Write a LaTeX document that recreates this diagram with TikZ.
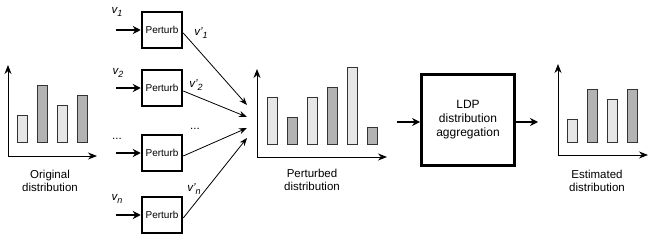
\documentclass[tikz,border=0pt]{standalone}
\usepackage{fontspec}
\setmainfont{Liberation Sans}
\usetikzlibrary{arrows.meta, positioning}
\definecolor{BarLight}{RGB}{230,230,230}
\definecolor{BarDark}{RGB}{179,179,179}
\definecolor{BarEdge}{RGB}{51,51,51}
\newcommand{\vsub}[1]{\raisebox{-2.5pt}{\fontsize{9}{9}\selectfont\itshape #1}}

\begin{document}
\begin{tikzpicture}[x=1pt, y=-1pt,
  perturb/.style={draw, line width=2.5pt, minimum width=40pt,
                  minimum height=36pt, inner sep=0pt,
                  font=\fontsize{10}{12}\selectfont},
  agg/.style={draw, line width=2.8pt, minimum width=93pt,
              minimum height=91pt, align=center,
              font=\fontsize{12}{14}\selectfont},
  caption/.style={align=center, font=\fontsize{11.5}{13}\selectfont},
  vlabel/.style={inner sep=0pt, font=\fontsize{11.5}{13}\selectfont\itshape},
  thickarr/.style={-{Stealth[length=8pt, width=8pt]}, line width=1.8pt},
  thinarr/.style={-{Stealth[length=8pt, width=6pt]}, line width=0.8pt},
  axis/.style={-{Stealth[length=9pt, width=7pt]}, line width=0.9pt},
  lbar/.style={draw=BarEdge, fill=BarLight, line width=0.8pt},
  dbar/.style={draw=BarEdge, fill=BarDark, line width=0.8pt},
]
\useasboundingbox (0,0) rectangle (656,240);

% original distribution
\coordinate (o1) at (8,156);
\foreach \bx/\btop/\bst in {17/115/lbar, 37/85/dbar, 57/105/lbar, 77/95/dbar}
  \draw[\bst] (\bx,142) rectangle (\bx+10,\btop);
\draw[axis] (o1) -- (8,65);
\draw[axis] (o1) -- (97,156);
\node[caption] (orig) at (50,181) {Original\\distribution};

% perturbation boxes
\node[perturb] (p1) at (162,30)  {Perturb};
\node[perturb] (p2) at (162,88)  {Perturb};
\node[perturb] (p3) at (162,153) {Perturb};
\node[perturb] (p4) at (162,215) {Perturb};

\node[vlabel] (v1) at (117,12)  {v\vsub{1}};
\node[vlabel] (v2) at (118,73)  {v\vsub{2}};
\node[vlabel] (vd) at (117,139) {\upshape ...};
\node[vlabel] (vn) at (117,199) {v\vsub{n}};

\foreach \i in {1,...,4}
  \draw[thickarr] ([xshift=-25pt]p\i.west) -- (p\i.west);

\node[vlabel] (w1) at (201,33)  {v'\vsub{1}};
\node[vlabel] (w2) at (196,85)  {v'\vsub{2}};
\node[vlabel] (wd) at (195,129) {\upshape ...};
\node[vlabel] (wn) at (194,189) {v'\vsub{n}};

\coordinate (m1) at (247,105);
\coordinate (m2) at (247,117);
\coordinate (m3) at (247,128);
\coordinate (m4) at (247,138);
\foreach \i in {1,...,4}
  \draw[thinarr] ([yshift=-3pt]p\i.east) -- (m\i);

% perturbed distribution
\coordinate (o2) at (257,157);
\foreach \bx/\btop/\bst in {267/97/lbar, 287/117/dbar, 307/97/lbar,
                             327/87/dbar, 347/67/lbar, 367/127/dbar}
  \draw[\bst] (\bx,144) rectangle (\bx+10,\btop);
\draw[axis] (o2) -- (257,69);
\draw[axis] (o2) -- (387,157);
\node[caption] (pert) at (312,180) {Perturbed\\distribution};

% aggregation
\node[agg] (ldp) at (468,120) {LDP\\distribution\\aggregation};
\coordinate (ain) at (397,122);
\coordinate (aout) at (538,122);
\draw[thickarr] (ain) -- (ain -| ldp.west);
\draw[thickarr] (aout -| ldp.east) -- (aout);

% estimated distribution
\coordinate (o3) at (558,155);
\foreach \bx/\btop/\bst in {567/119/lbar, 587/89/dbar, 607/99/lbar, 627/89/dbar}
  \draw[\bst] (\bx,142) rectangle (\bx+10,\btop);
\draw[axis] (o3) -- (558,64);
\draw[axis] (o3) -- (648,155);
\node[caption] (est) at (597,181) {Estimated\\distribution};
\end{tikzpicture}
\end{document}
